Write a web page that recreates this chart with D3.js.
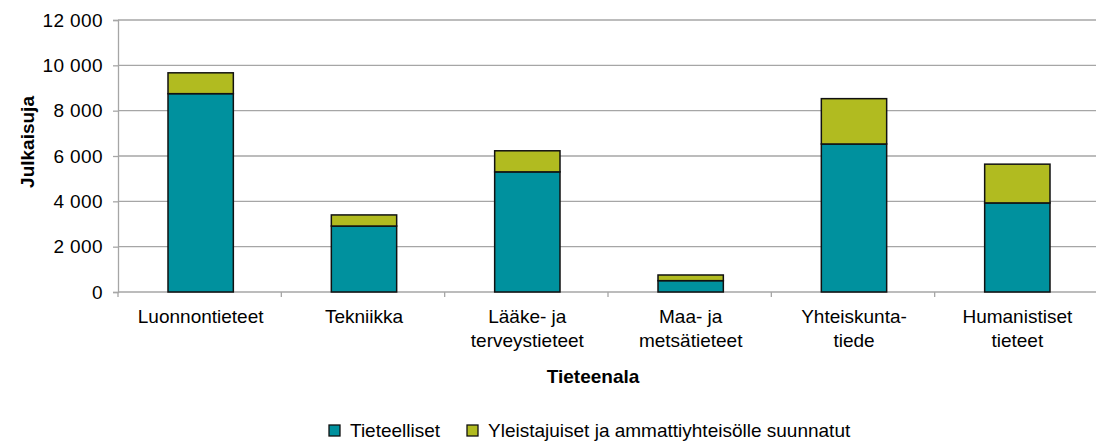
<!DOCTYPE html>
<html>
<head>
  <meta charset="utf-8">
  <title>Julkaisut tieteenaloittain</title>
  <script src="https://cdn.jsdelivr.net/npm/d3@7"></script>
  <style>
    body { margin: 0; background: #fff; }
    text { font-family: "Liberation Sans", Arial, sans-serif; fill: #000; }
  </style>
</head>
<body>
<script>
  // Data
  const categories = [
    ["Luonnontieteet"],
    ["Tekniikka"],
    ["Lääke- ja", "terveystieteet"],
    ["Maa- ja", "metsätieteet"],
    ["Yhteiskunta-", "tiede"],
    ["Humanistiset", "tieteet"]
  ];
  const seriesNames = ["Tieteelliset", "Yleistajuiset ja ammattiyhteisölle suunnatut"];
  const tieteelliset = [8750, 2910, 5300, 500, 6530, 3930];
  const yleistajuiset = [920, 490, 930, 250, 2000, 1710];
  const yTicks = [0, 2000, 4000, 6000, 8000, 10000, 12000];

  const w = 1096, h = 441;
  const mLeft = 118, mRight = 1098, mTop = 20, mBottom = 292;
  const colors = ["#00919e", "#b1bb20"];
  const fs = 19;

  const svg = d3.select("body").append("svg")
    .attr("width", w)
    .attr("height", h);

  const x = d3.scaleBand()
    .domain(d3.range(categories.length))
    .range([mLeft, mRight])
    .paddingInner(0.6)
    .paddingOuter(0.3);

  const y = d3.scaleLinear()
    .domain([0, 12000])
    .range([mBottom, mTop]);

  const fmt = v => d3.format(",")(v).replace(",", " ");

  // grid lines
  svg.append("g")
    .selectAll("line")
    .data(yTicks.slice(1))
    .enter()
    .append("line")
    .attr("x1", mLeft).attr("x2", w)
    .attr("y1", d => y(d)).attr("y2", d => y(d))
    .attr("stroke", "#a6a6a6")
    .attr("stroke-width", 1.3);

  // y axis
  const yAxis = svg.append("g")
    .attr("transform", `translate(${mLeft},0)`)
    .call(d3.axisLeft(y).tickValues(yTicks).tickFormat(fmt).tickSize(5).tickPadding(10));
  yAxis.select(".domain").attr("stroke", "#a6a6a6").attr("stroke-width", 1.3);
  yAxis.selectAll(".tick line").attr("stroke", "#a6a6a6").attr("stroke-width", 1.3);
  yAxis.selectAll("text").attr("font-size", fs).attr("fill", "#000")
    .attr("letter-spacing", 0.4)
    .attr("font-family", "Liberation Sans, Arial, sans-serif");

  // x axis line and ticks
  svg.append("line")
    .attr("x1", mLeft).attr("x2", w)
    .attr("y1", mBottom).attr("y2", mBottom)
    .attr("stroke", "#a6a6a6").attr("stroke-width", 1.3);
  svg.append("g")
    .selectAll("line")
    .data(d3.range(categories.length + 1))
    .enter()
    .append("line")
    .attr("x1", i => mLeft + i * x.step())
    .attr("x2", i => mLeft + i * x.step())
    .attr("y1", mBottom).attr("y2", mBottom + 5)
    .attr("stroke", "#a6a6a6").attr("stroke-width", 1.3);

  // stacked bars
  const rows = categories.map((c, i) => ({ i: i, a: tieteelliset[i], b: yleistajuiset[i] }));
  const stack = d3.stack().keys(["a", "b"])(rows);

  svg.append("g")
    .selectAll("g")
    .data(stack)
    .enter()
    .append("g")
    .attr("fill", (d, k) => colors[k])
    .selectAll("rect")
    .data(d => d)
    .enter()
    .append("rect")
    .attr("x", d => x(d.data.i) + 1)
    .attr("width", x.bandwidth())
    .attr("y", d => y(d[1]))
    .attr("height", d => y(d[0]) - y(d[1]))
    .attr("stroke", "#111")
    .attr("stroke-width", 1.5);

  // category labels
  const lab = svg.append("g")
    .selectAll("text")
    .data(categories)
    .enter()
    .append("text")
    .attr("text-anchor", "middle")
    .attr("font-size", fs)
    .attr("x", (d, i) => x(i) + x.bandwidth() / 2 + 1)
    .attr("y", 323);
  lab.selectAll("tspan")
    .data(d => d)
    .enter()
    .append("tspan")
    .attr("x", function () { return d3.select(this.parentNode).attr("x"); })
    .attr("dy", (d, j) => j === 0 ? 0 : 23.5)
    .text(d => d);

  // axis titles
  svg.append("text")
    .attr("transform", "translate(34,142) rotate(-90)")
    .attr("text-anchor", "middle")
    .attr("font-size", fs)
    .attr("font-weight", "bold")
    .text("Julkaisuja");

  svg.append("text")
    .attr("x", 593).attr("y", 383)
    .attr("text-anchor", "middle")
    .attr("font-size", fs)
    .attr("font-weight", "bold")
    .text("Tieteenala");

  // legend
  const legendX = [329, 467];
  const leg = svg.append("g")
    .selectAll("g")
    .data(seriesNames)
    .enter()
    .append("g")
    .attr("transform", (d, k) => `translate(${legendX[k]},425)`);
  leg.append("rect")
    .attr("width", 11).attr("height", 11)
    .attr("fill", (d, k) => colors[k])
    .attr("stroke", "#111").attr("stroke-width", 1.3);
  leg.append("text")
    .attr("x", 21).attr("y", 12)
    .attr("font-size", fs)
    .text(d => d);
</script>
</body>
</html>
